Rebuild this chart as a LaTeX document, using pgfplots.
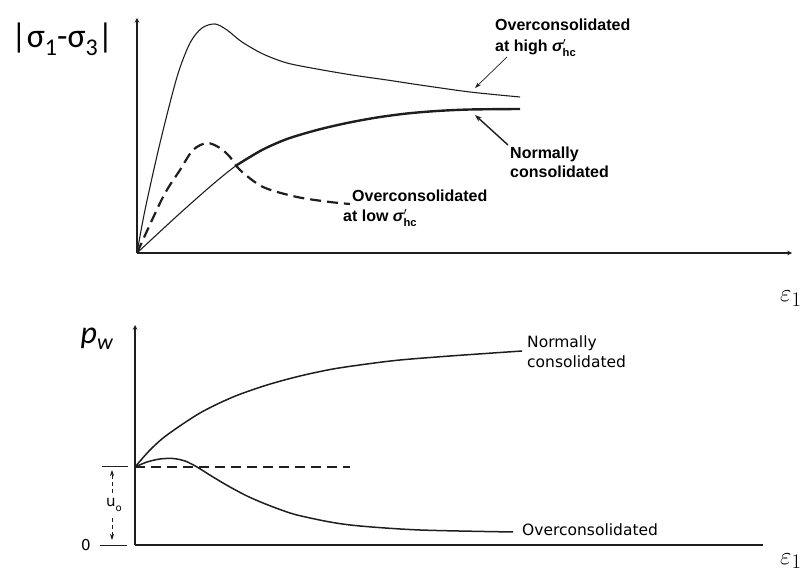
\documentclass[border=0pt]{standalone}
\usepackage{amsmath}
\usepackage{pgfplots}
\pgfplotsset{compat=1.18}
\usepackage{fontspec}
\setmainfont{Liberation Sans}
\newfontfamily\carlito{Carlito}
\newfontfamily\dejavu{DejaVu Sans}
\usetikzlibrary{arrows.meta}
\definecolor{ink}{HTML}{1E1E1E}
\begin{document}
\begin{tikzpicture}
\path[use as bounding box] (0,0) rectangle (806bp,574bp);
% ---------------- top panel ----------------
\begin{axis}[at={(137bp,321bp)}, anchor=south west, scale only axis,
  width=655bp, height=235bp, xmin=0, xmax=655, ymin=0, ymax=235,
  axis lines=left, axis line style={line width=1.1bp, color=ink},
  x axis line style={-stealth}, y axis line style={-stealth},
  xtick=\empty, ytick=\empty, clip=false]
% overconsolidated at high sigma'_hc
\addplot[ink, line width=1.1bp, smooth, tension=0.5] coordinates {
 (0,0) (8,43) (23,110) (40,176) (53,210) (65,225) (78,229) (90,223) (105,211)
 (126,199) (150,190) (180,184) (215,178) (250,173) (283,168) (333,161) (383,156)};
% normally consolidated (thin whole curve)
\addplot[ink, line width=1.1bp, smooth, tension=0.5] coordinates {
 (0,0) (40,37) (75,68) (100,88) (125,103) (150,114)};
% normally consolidated (thick part)
\addplot[ink, line width=2.4bp, smooth, tension=0.5] coordinates {
 (100,88) (125,103) (150,114) (180,123) (210,130) (240,135.5) (270,139.5)
 (300,142) (333,143.5) (383,144)};
% overconsolidated at low sigma'_hc
\addplot[ink, line width=2.2bp, smooth, tension=0.5, dash pattern=on 11bp off 6bp] coordinates {
 (0,0) (26,56) (43,83) (56,103) (70,110) (83,105) (93,96) (103,83) (126,66)
 (160,56) (193,51) (213,49)};
% annotations
\draw[ink, line width=0.7bp, -{Stealth[length=6bp,width=4bp]}] (370,196) -- (338,165);
\draw[ink, line width=1.4bp, -{Stealth[length=7bp,width=5bp]}] (371,108) -- (338,138);
\begin{scope}[every node/.style={inner sep=0pt, font=\fontsize{16bp}{19bp}\selectfont\bfseries}]
\node[anchor=base west] at (358,222) {Overconsolidated};
\node[anchor=base west] at (358,201) {at high $\text{\bfseries\itshape σ}'_{\text{\bfseries hc}}$};
\node[anchor=base west] at (373,94) {Normally};
\node[anchor=base west] at (373,75) {consolidated};
\node[anchor=base west] at (215,51) {Overconsolidated};
\node[anchor=base west] at (206,31) {at low $\text{\bfseries\itshape σ}'_{\text{\bfseries hc}}$};
\end{scope}
\node[anchor=base west, inner sep=0pt, font=\carlito\fontsize{34bp}{34bp}\selectfont] at (-126,205)
  {|σ\raisebox{-0.22em}{\fontsize{24bp}{24bp}\selectfont 1}-σ\raisebox{-0.22em}{\fontsize{24bp}{24bp}\selectfont 3}|};
\node[anchor=base west, inner sep=0pt] at (643,-49) {\fontsize{28bp}{28bp}\selectfont$\varepsilon_1$};
\end{axis}
% ---------------- bottom panel ----------------
\begin{axis}[at={(135bp,29bp)}, anchor=south west, scale only axis,
  width=628bp, height=220bp, xmin=0, xmax=628, ymin=0, ymax=220,
  axis lines=left, axis line style={line width=1.1bp, color=ink},
  x axis line style={-}, y axis line style={-stealth},
  xtick=\empty, ytick=\empty, clip=false]
% u0 reference level
\addplot[ink, line width=1.1bp, dash pattern=on 10bp off 6bp] coordinates {(0,78) (215,78)};
% normally consolidated
\addplot[ink, line width=1.5bp, smooth, tension=0.5] coordinates {
 (0,78) (15,95) (32,110) (65,132) (98,148) (132,160) (165,169) (198,176)
 (232,181) (265,185) (315,189) (387,194)};
% overconsolidated
\addplot[ink, line width=1.5bp, smooth, tension=0.5] coordinates {
 (0,78) (12,83) (25,86) (38,86.5) (50,84) (62,78) (78,68) (95,58) (112,49)
 (128,42) (145,35.5) (162,30) (195,23) (225,19) (285,15) (378,13)};
% side marks
\draw[ink, line width=1bp] (-33,78) -- (-7,78);
\draw[ink, line width=1bp] (-35,0) -- (-8,0);
\draw[ink, line width=0.7bp, dash pattern=on 4bp off 3bp, -{Stealth[length=6bp,width=4bp]}] (-23,52) -- (-23,75);
\draw[ink, line width=0.7bp, dash pattern=on 4bp off 3bp, -{Stealth[length=6bp,width=4bp]}] (-23,27) -- (-23,5);
\node[inner sep=0pt, font=\dejavu\fontsize{15bp}{15bp}\selectfont] at (-21,40) {u\raisebox{-0.3em}{\fontsize{10bp}{10bp}\selectfont o}};
\node[inner sep=0pt, font=\dejavu\fontsize{15bp}{15bp}\selectfont] at (-49,0) {0};
\begin{scope}[every node/.style={inner sep=0pt, font=\dejavu\fontsize{15.5bp}{18bp}\selectfont}]
\node[anchor=base west] at (392,198) {Normally};
\node[anchor=base west] at (392,178) {consolidated};
\node[anchor=base west] at (387,10) {Overconsolidated};
\end{scope}
\node[anchor=base east, inner sep=0pt, font=\carlito\itshape\fontsize{32bp}{32bp}\selectfont] at (-22,202)
  {p\raisebox{-0.2em}{\fontsize{22bp}{22bp}\selectfont w}};
\node[anchor=base west, inner sep=0pt] at (645,-19) {\fontsize{28bp}{28bp}\selectfont$\varepsilon_1$};
\end{axis}
\end{tikzpicture}
\end{document}
